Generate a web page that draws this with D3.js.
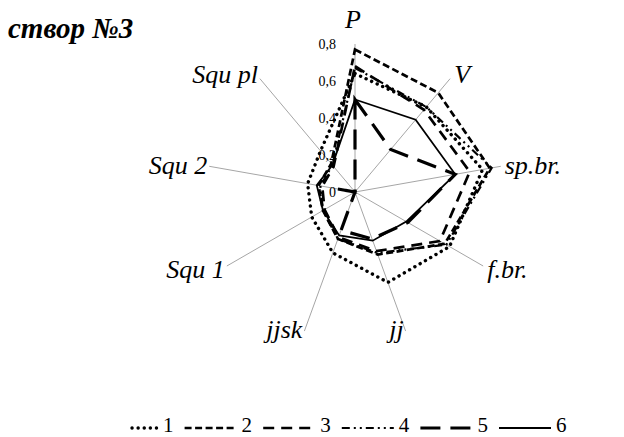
<!DOCTYPE html>
<html>
<head>
<meta charset="utf-8">
<script src="https://cdn.jsdelivr.net/npm/d3@7/dist/d3.min.js"></script>
<style>
  body { margin: 0; background: #fff; }
  svg { display: block; }
  text { font-family: "Liberation Serif", "Times New Roman", serif; fill: #000; }
</style>
</head>
<body>
<div id="chart"></div>
<script>
// categories round the radar, clockwise from the top
const axes = ['P', 'V', 'sp.br.', 'f.br.', 'jj', 'jjsk', 'Squ 1', 'Squ 2', 'Squ pl'];

// series values
const s1 = [0.64, 0.60, 0.70, 0.59, 0.52, 0.35, 0.27, 0.26, 0.29];
const s2 = [0.77, 0.70, 0.74, 0.56, 0.36, 0.27, 0.20, 0.20, 0.20];
const s3 = [0.68, 0.58, 0.63, 0.53, 0.34, 0.26, 0.19, 0.18, 0.18];
const s4 = [0.67, 0.60, 0.75, 0.57, 0.35, 0.27, 0.20, 0.19, 0.19];
const s5 = [0.50, 0.30, 0.55, 0.33, 0.27, 0.22, 0.00, 0.10, 0.00];
const s6 = [0.50, 0.51, 0.55, 0.32, 0.28, 0.25, 0.20, 0.21, 0.19];

const seriesNames = ['1', '2', '3', '4', '5', '6'];
const ticks = [0, 0.2, 0.4, 0.6, 0.8];
const tickLabels = ['0', '0,2', '0,4', '0,6', '0,8'];
const title = 'створ №3';

const width = 624;
const height = 437;
const cx = 355;
const cy = 192;

// line look for each series (dash pattern, width)
const styles = [
  { dash: '0.1 6', w: 3.4, cap: 'round' },
  { dash: '7 3.5', w: 2.7, cap: 'butt' },
  { dash: '11 7', w: 2.7, cap: 'butt' },
  { dash: '8 4 2 4 2 4', w: 2.2, cap: 'butt' },
  { dash: '20 10', w: 3.2, cap: 'butt' },
  { dash: null, w: 1.8, cap: 'butt' },
];

const series = [s1, s2, s3, s4, s5, s6];

const svg = d3.select('#chart').append('svg')
  .attr('width', width)
  .attr('height', height);

svg.append('rect').attr('width', width).attr('height', height).attr('fill', '#fff');

const r = d3.scaleLinear().domain([0, 0.8]).range([0, 148]);
const angle = d3.scaleLinear().domain([0, axes.length]).range([0, 2 * Math.PI]);

const g = svg.append('g').attr('transform', `translate(${cx},${cy})`);

const px = (i, v) => r(v) * Math.sin(angle(i));
const py = (i, v) => -r(v) * Math.cos(angle(i));

// spokes
g.append('g').selectAll('line')
  .data(axes)
  .enter().append('line')
    .attr('x1', 0).attr('y1', 0)
    .attr('x2', (d, i) => px(i, 0.8))
    .attr('y2', (d, i) => py(i, 0.8))
    .attr('stroke', '#a6a6a6')
    .attr('stroke-width', 1);

// tick labels on the P spoke
g.append('g').selectAll('text')
  .data(ticks)
  .enter().append('text')
    .attr('x', -19)
    .attr('y', d => -r(d) + 5)
    .attr('text-anchor', 'end')
    .style('font-size', '14px')
    .text((d, i) => tickLabels[i]);

// series lines
const radial = d3.lineRadial()
  .angle((d, i) => angle(i))
  .radius(d => r(d))
  .curve(d3.curveLinearClosed);

g.append('g').selectAll('path')
  .data(series)
  .enter().append('path')
    .attr('d', radial)
    .attr('fill', 'none')
    .attr('stroke', '#000')
    .attr('stroke-width', (d, i) => styles[i].w)
    .attr('stroke-linecap', (d, i) => styles[i].cap)
    .attr('stroke-linejoin', 'miter')
    .attr('stroke-dasharray', (d, i) => styles[i].dash);

// category labels
const degOf = i => angle(i) * 180 / Math.PI;
function labelAnchor(i) {
  const deg = degOf(i);
  if (deg < 1) return 'middle';
  if (deg < 150) return 'start';
  return 'end';
}

g.append('g').selectAll('text')
  .data(axes)
  .enter().append('text')
    .attr('x', (d, i) => {
      const a = labelAnchor(i);
      if (a === 'middle') return px(i, 0.8) - 2;
      return px(i, 0.8) + (a === 'start' ? 4 : -2);
    })
    .attr('y', (d, i) => {
      const deg = degOf(i);
      if (deg < 1) return py(i, 0.8) - 16;
      if (deg > 150 && deg < 210) return py(i, 0.8) + 7;
      return py(i, 0.8) + 9 - 6 * Math.cos(angle(i));
    })
    .attr('text-anchor', (d, i) => labelAnchor(i))
    .style('font-size', '26px')
    .style('font-style', 'italic')
    .text(d => d);

// title
svg.append('text')
  .attr('x', 8)
  .attr('y', 38)
  .style('font-size', '29px')
  .style('font-weight', 'bold')
  .style('font-style', 'italic')
  .text(title);

// legend
const legendX = d3.scalePoint().domain(seriesNames).range([163, 556]);
const lg = svg.append('g').selectAll('g')
  .data(seriesNames)
  .enter().append('g')
    .attr('transform', d => `translate(${legendX(d)},428)`);

lg.append('line')
  .attr('x1', (d, i) => i === 0 ? -31 : -57)
  .attr('x2', -5)
  .attr('y1', 0).attr('y2', 0)
  .attr('stroke', '#000')
  .attr('stroke-width', (d, i) => styles[i].w)
  .attr('stroke-linecap', (d, i) => styles[i].cap)
  .attr('stroke-dasharray', (d, i) => styles[i].dash);

lg.append('text')
  .attr('x', 0)
  .attr('y', 4)
  .style('font-size', '21px')
  .text(d => d);
</script>
</body>
</html>
